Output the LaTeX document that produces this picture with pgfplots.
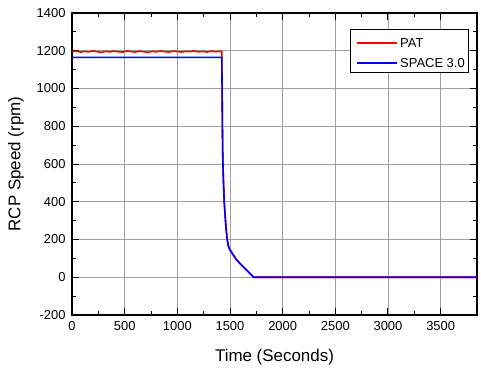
\documentclass[border=0pt]{standalone}
\usepackage{fontspec}
\setmainfont{Liberation Sans}
\usepackage{pgfplots}
\pgfplotsset{compat=1.18}
\begin{document}
\begin{tikzpicture}
\begin{axis}[
  scale only axis,
  width=405bp, height=302bp,
  xmin=0, xmax=3845, ymin=-200, ymax=1400,
  xtick={0,500,...,3500},
  ytick={-200,0,...,1400},
  minor x tick num=1, minor y tick num=1,
  tick pos=both, tick align=inside,
  major tick length=7bp, minor tick length=4bp,
  every tick/.style={black, line width=1pt},
  axis line style={black, line width=1.3pt},
  grid=major,
  major grid style={gray!75, line width=0.8pt},
  /pgf/number format/assume math mode=true,
  /pgf/number format/1000 sep={},
  ticklabel style={font=\fontsize{13}{15}\selectfont},
  xticklabel style={yshift=-3bp},
  yticklabel style={xshift=-3bp},
  label style={font=\fontsize{17}{20}\selectfont},
  xlabel={Time (Seconds)},
  ylabel={RCP Speed (rpm)},
  xlabel style={at={(axis description cs:0.5,-0.139)}, anchor=center},
  ylabel style={at={(axis description cs:-0.138,0.5)}, anchor=center},
]
\addplot[red, line width=1.6pt] coordinates {
(0,1195) (40,1198) (80,1193) (120,1197) (160,1194) (200,1199) (240,1195) (280,1192) (320,1197)
(360,1194) (400,1198) (440,1195) (480,1193) (520,1199) (560,1196) (600,1193) (640,1198)
(680,1195) (720,1192) (760,1197) (800,1194) (840,1199) (880,1195) (920,1193) (960,1198)
(1000,1196) (1040,1193) (1080,1197) (1120,1195) (1160,1199) (1200,1194) (1240,1197)
(1280,1193) (1320,1198) (1360,1195) (1400,1197) (1422,1195)
(1425,1000) (1428,800) (1431,650) (1436,540) (1445,400) (1461,268) (1474,198) (1486,162)
(1500,145) (1521,127) (1562,92) (1626,56) (1689,21) (1720,2) (1725,0) (3845,0)
};
\addplot[blue, line width=1.6pt] coordinates {
(0,1165) (1422,1165)
(1425,1000) (1428,800) (1431,650) (1436,540) (1445,400) (1461,268) (1474,198) (1486,162)
(1500,145) (1521,127) (1562,92) (1626,56) (1689,21) (1720,2) (1725,0) (3845,0)
};
% legend
\draw[black, line width=0.8pt, fill=white] (axis description cs:0.6864,0.8046) rectangle (axis description cs:0.9778,0.947);
\draw[red, line width=2.2pt] (axis description cs:0.7037,0.9017) -- (axis description cs:0.8025,0.9017);
\draw[blue, line width=2.2pt] (axis description cs:0.7037,0.8334) -- (axis description cs:0.8025,0.8334);
\node[anchor=west, inner sep=0pt, font=\fontsize{13}{15}\selectfont] at (axis description cs:0.8099,0.9017) {PAT};
\node[anchor=west, inner sep=0pt, font=\fontsize{13}{15}\selectfont] at (axis description cs:0.8099,0.8334) {SPACE 3.0};
\end{axis}
\pgfresetboundingbox
\useasboundingbox (-72bp,-54bp) rectangle (409bp,315bp);
\end{tikzpicture}
\end{document}
